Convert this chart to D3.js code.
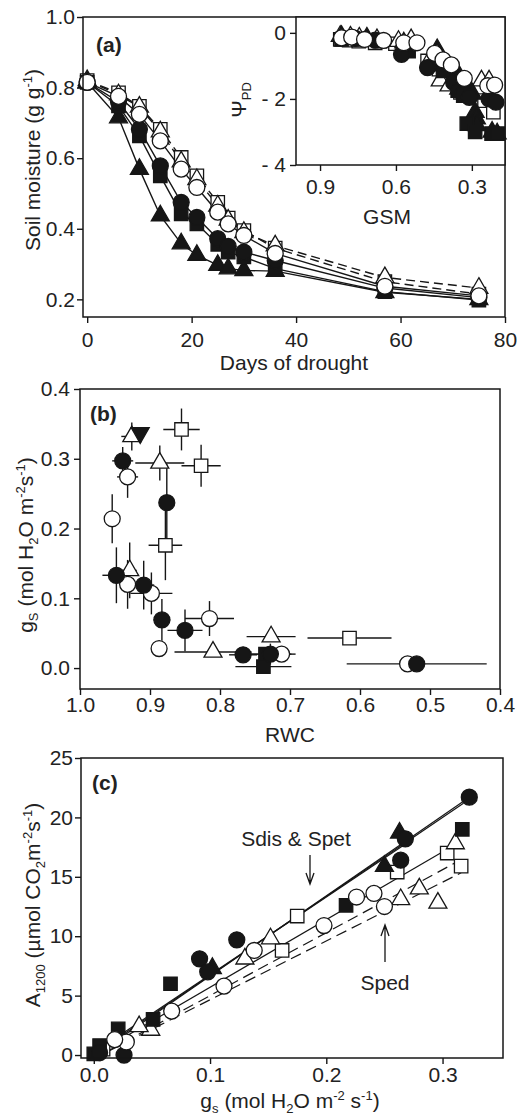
<!DOCTYPE html>
<html>
<head>
<meta charset="utf-8">
<script src="https://cdn.jsdelivr.net/npm/d3@7"></script>
<style>
body { margin: 0; background: #fff; }
text { font-family: "Liberation Sans", Arial, sans-serif; fill: #222; }
</style>
</head>
<body>
<script>
// ---- panel (a): soil moisture over days of drought ----
var days = [0, 6, 10, 14, 18, 21, 25, 27, 30, 36, 57, 75];
var smOpenSquare   = [0.82, 0.785, 0.747, 0.682, 0.602, 0.55, 0.475, 0.43, 0.395, 0.345, 0.25, 0.215];
var smOpenTriangle = [0.82, 0.78, 0.745, 0.675, 0.59, 0.54, 0.465, 0.425, 0.39, 0.352, 0.262, 0.232];
var smOpenCircle   = [0.815, 0.775, 0.724, 0.649, 0.569, 0.517, 0.447, 0.414, 0.381, 0.33, 0.237, 0.21];
var smFillCircle   = [0.815, 0.76, 0.682, 0.578, 0.475, 0.432, 0.372, 0.35, 0.334, 0.31, 0.232, 0.205];
var smFillSquare   = [0.815, 0.748, 0.663, 0.55, 0.442, 0.414, 0.356, 0.334, 0.32, 0.287, 0.222, 0.198];
var smFillTriangle = [0.815, 0.715, 0.569, 0.437, 0.358, 0.325, 0.297, 0.287, 0.282, 0.28, 0.22, 0.2];

// inset: predawn water potential against the same soil moisture values
var psiOpenSquare   = [-0.2, -0.22, -0.25, -0.3, -0.33, -0.3, -0.85, -1.1, -1.35, -1.8, -2.05, -2.4];
var psiOpenTriangle = [-0.1, -0.12, -0.15, -0.2, -0.25, -0.2, -0.8, -1.45, -1.6, -1.7, -1.45, -1.45];
var psiOpenCircle   = [-0.15, -0.13, -0.2, -0.23, -0.3, -0.3, -0.62, -0.82, -0.97, -1.38, -1.6, -1.58];
var psiFillCircle   = [-0.15, -0.17, -0.22, -0.65, -1.05, -0.75, -1.5, -1.75, -1.85, -1.95, -2.0, -2.1];
var psiFillSquare   = [-0.2, -0.2, -0.25, -0.55, -0.95, -1.15, -1.75, -1.9, -2.75, -3.0, -3.05, -3.05];
var psiFillTriangle = [-0.1, -0.15, -0.3, -0.5, -1.2, -1.5, -1.85, -2.4, -2.6, -2.8, -3.0, -3.05];

// ---- panel (b): gs against RWC, with errors ----
var bFillCircleRwc = [0.939, 0.876, 0.948, 0.909, 0.883, 0.85, 0.767, 0.728, 0.519];
var bFillCircleGs  = [0.297, 0.237, 0.133, 0.119, 0.069, 0.054, 0.019, 0.02, 0.006];
var bFillCircleXe  = [0.015, 0.01, 0.02, 0.015, 0.012, 0.025, 0.02, 0.03, 0.1];
var bFillCircleYe  = [0.02, 0.055, 0.04, 0.035, 0.03, 0.03, 0.01, 0.015, 0.004];
var bOpenCircleRwc = [0.932, 0.954, 0.932, 0.898, 0.887, 0.815, 0.712, 0.532];
var bOpenCircleGs  = [0.274, 0.214, 0.12, 0.107, 0.028, 0.071, 0.02, 0.006];
var bOpenCircleXe  = [0.015, 0.005, 0.01, 0.03, 0.005, 0.035, 0.02, 0.01];
var bOpenCircleYe  = [0.03, 0.035, 0.035, 0.03, 0.01, 0.025, 0.01, 0.003];
var bOpenTriRwc = [0.926, 0.886, 0.929, 0.81, 0.727];
var bOpenTriGs  = [0.332, 0.294, 0.14, 0.023, 0.045];
var bOpenTriXe  = [0.015, 0.035, 0.01, 0.055, 0.035];
var bOpenTriYe  = [0.02, 0.025, 0.04, 0.005, 0.005];
var bOpenSqRwc = [0.855, 0.827, 0.878, 0.615];
var bOpenSqGs  = [0.342, 0.29, 0.176, 0.043];
var bOpenSqXe  = [0.026, 0.028, 0.024, 0.06];
var bOpenSqYe  = [0.03, 0.03, 0.05, 0.005];
var bFillSqRwc = [0.738, 0.735];
var bFillSqGs  = [0.002, 0.02];
var bFillSqXe  = [0.04, 0.03];
var bFillSqYe  = [0.006, 0.006];
var bDownTriRwc = [0.914];
var bDownTriGs  = [0.337];

// ---- panel (c): A1200 against gs ----
var cFillCircleGs = [0.323, 0.268, 0.264, 0.123, 0.091, 0.098, 0.026, 0.005];
var cFillCircleA  = [21.7, 18.2, 16.4, 9.7, 8.1, 7.0, 0.0, 0.2];
var cFillTriGs = [0.263, 0.25, 0.102];
var cFillTriA  = [18.7, 15.9, 7.3];
var cFillSqGs = [0.317, 0.217, 0.066, 0.051, 0.021, 0.005, 0.0];
var cFillSqA  = [19.0, 12.6, 6.0, 3.0, 2.2, 0.8, 0.1];
var cOpenSqGs = [0.304, 0.316, 0.261, 0.175, 0.162, 0.008];
var cOpenSqA  = [17.0, 15.9, 15.4, 11.7, 8.8, 0.5];
var cOpenCircleGs = [0.25, 0.241, 0.226, 0.198, 0.138, 0.112, 0.067, 0.028, 0.018];
var cOpenCircleA  = [12.5, 13.6, 13.3, 10.9, 8.8, 5.8, 3.7, 1.1, 1.3];
var cOpenTriGs = [0.311, 0.296, 0.28, 0.264, 0.152, 0.13, 0.049, 0.039];
var cOpenTriA  = [17.8, 12.8, 14.0, 13.1, 9.8, 8.1, 2.1, 2.4];

// regression lines: A = slope * gs + intercept, from gs = 0 to end
var fitSlope     = [67.5, 66.5, 65.5, 57, 53, 49.5];
var fitIntercept = [-0.1, 0.05, 0.2, 0.0, -0.3, -0.3];
var fitEnd       = [0.323, 0.318, 0.27, 0.305, 0.31, 0.316];
var fitDashed    = [false, false, false, false, true, true];

var xTicksA = [0, 20, 40, 60, 80];
var yTicksA = [0.2, 0.4, 0.6, 0.8, 1.0];
var xTicksInset = [0.9, 0.6, 0.3];
var yTicksInset = [0, -2, -4];
var xTicksB = [1.0, 0.9, 0.8, 0.7, 0.6, 0.5, 0.4];
var yTicksB = [0.0, 0.1, 0.2, 0.3, 0.4];
var xTicksC = [0.0, 0.1, 0.2, 0.3];
var yTicksC = [0, 5, 10, 15, 20, 25];

var INK = "#161616";
var FS = 21;

var svg = d3.select("body").append("svg")
    .attr("width", 531)
    .attr("height", 1119);

function zip(xs, ys) {
    return xs.map(function(v, i) { return [v, ys[i]]; });
}

function symbolPath(kind) {
    var type = d3.symbolCircle, size = 200;
    if (kind === "square") { type = d3.symbolSquare; size = 180; }
    if (kind === "triangle" || kind === "down") { type = d3.symbolTriangle; size = 140; }
    return d3.symbol().type(type).size(size)();
}

function drawPoints(g, x, y, pts, kind, filled) {
    var rot = kind === "down" ? " rotate(180)" : "";
    g.append("g").selectAll("path")
        .data(pts)
        .enter()
        .append("path")
        .attr("d", symbolPath(kind))
        .attr("transform", function(d) {
            return "translate(" + x(d[0]) + "," + y(d[1]) + ")" + rot;
        })
        .attr("fill", filled ? INK : "#fff")
        .attr("stroke", INK)
        .attr("stroke-width", 1.3);
}

function richText(sel, parts, size) {
    var shift = 0;
    parts.forEach(function(p) {
        var target = p[1] === "sup" ? -0.36 * size : (p[1] === "sub" ? 0.25 * size : 0);
        var t = sel.append("tspan").text(p[0]).attr("dy", target - shift);
        if (p[1]) t.attr("font-size", size * 0.62);
        shift = target;
    });
}

function axes(x, y, xTicks, yTicks, xFmt, yFmt, xPad, yPad) {
    var r = x.range(), t = y.range();
    var gx = svg.append("g")
        .attr("transform", "translate(0," + t[0] + ")")
        .call(d3.axisBottom(x).tickValues(xTicks).tickFormat(xFmt)
            .tickSize(6).tickSizeOuter(0).tickPadding(xPad));
    var gy = svg.append("g")
        .attr("transform", "translate(" + r[0] + ",0)")
        .call(d3.axisLeft(y).tickValues(yTicks).tickFormat(yFmt)
            .tickSize(6).tickSizeOuter(0).tickPadding(yPad));
    [gx, gy].forEach(function(g) {
        g.select(".domain").remove();
        g.selectAll("line").attr("stroke", INK).attr("stroke-width", 1.4);
        g.selectAll("text").attr("font-size", FS).attr("fill", "#222")
            .attr("font-family", "'Liberation Sans', Arial, sans-serif");
    });
    svg.append("rect")
        .attr("x", r[0]).attr("y", t[1])
        .attr("width", r[1] - r[0]).attr("height", t[0] - t[1])
        .attr("fill", "none").attr("stroke", INK).attr("stroke-width", 1.5);
}

var f1 = d3.format(".1f");

// ================= panel (a) =================
var xa = d3.scaleLinear().domain([-0.8, 80]).range([83, 505]);
var ya = d3.scaleLinear().domain([0.15, 1.0]).range([317, 17]);

var seriesA = [
    { sm: smOpenSquare, psi: psiOpenSquare, kind: "square", filled: false, dash: "9,5" },
    { sm: smOpenTriangle, psi: psiOpenTriangle, kind: "triangle", filled: false, dash: "9,5" },
    { sm: smFillTriangle, psi: psiFillTriangle, kind: "triangle", filled: true, dash: null },
    { sm: smFillSquare, psi: psiFillSquare, kind: "square", filled: true, dash: null },
    { sm: smFillCircle, psi: psiFillCircle, kind: "circle", filled: true, dash: null },
    { sm: smOpenCircle, psi: psiOpenCircle, kind: "circle", filled: false, dash: null }
];

var lineA = d3.line().x(function(d) { return xa(d[0]); }).y(function(d) { return ya(d[1]); });
var gA = svg.append("g");
seriesA.forEach(function(s) {
    gA.append("path")
        .datum(zip(days, s.sm))
        .attr("d", lineA)
        .attr("fill", "none")
        .attr("stroke", INK)
        .attr("stroke-width", 1.4)
        .attr("stroke-dasharray", s.dash);
});
seriesA.forEach(function(s) {
    drawPoints(gA, xa, ya, zip(days, s.sm), s.kind, s.filled);
});
axes(xa, ya, xTicksA, yTicksA, d3.format("d"), f1, 9, 2);

svg.append("text").attr("x", 96).attr("y", 52)
    .attr("font-size", FS).attr("font-weight", "bold").text("(a)");
svg.append("text").attr("x", 294).attr("y", 370)
    .attr("font-size", FS).attr("text-anchor", "middle").text("Days of drought");
richText(svg.append("text")
    .attr("transform", "translate(40,160) rotate(-90)")
    .attr("font-size", FS).attr("text-anchor", "middle"),
    [["Soil moisture (g g", ""], ["-1", "sup"], [")", ""]], FS);

// inset
var xi = d3.scaleLinear().domain([0.995, 0.169]).range([296, 505]);
var yi = d3.scaleLinear().domain([-4, 0.48]).range([165, 17]);
svg.append("rect").attr("x", 296).attr("y", 17).attr("width", 209).attr("height", 148)
    .attr("fill", "#fff");
var gI = svg.append("g");
seriesA.forEach(function(s) {
    drawPoints(gI, xi, yi, zip(s.sm, s.psi), s.kind, s.filled);
});
axes(xi, yi, xTicksInset, yTicksInset, f1,
    function(d) { return d < 0 ? "- " + (-d) : d; }, 8, 4);
svg.append("text").attr("x", 387).attr("y", 224)
    .attr("font-size", FS).attr("text-anchor", "middle").text("GSM");
richText(svg.append("text")
    .attr("transform", "translate(246,100) rotate(-90)")
    .attr("font-size", FS).attr("text-anchor", "middle"),
    [["\u03A8", ""], ["PD", "sub"]], FS);

// ================= panel (b) =================
var xb = d3.scaleLinear().domain([1.0, 0.4]).range([80, 500]);
var yb = d3.scaleLinear().domain([-0.03, 0.4]).range([689, 389]);

var seriesB = [
    { rwc: bOpenSqRwc, gs: bOpenSqGs, xe: bOpenSqXe, ye: bOpenSqYe, kind: "square", filled: false },
    { rwc: bOpenTriRwc, gs: bOpenTriGs, xe: bOpenTriXe, ye: bOpenTriYe, kind: "triangle", filled: false },
    { rwc: bOpenCircleRwc, gs: bOpenCircleGs, xe: bOpenCircleXe, ye: bOpenCircleYe, kind: "circle", filled: false },
    { rwc: bFillSqRwc, gs: bFillSqGs, xe: bFillSqXe, ye: bFillSqYe, kind: "square", filled: true },
    { rwc: bFillCircleRwc, gs: bFillCircleGs, xe: bFillCircleXe, ye: bFillCircleYe, kind: "circle", filled: true }
];

var gB = svg.append("g");
seriesB.forEach(function(s) {
    s.rwc.forEach(function(v, i) {
        gB.append("line")
            .attr("x1", xb(v - s.xe[i])).attr("x2", xb(v + s.xe[i]))
            .attr("y1", yb(s.gs[i])).attr("y2", yb(s.gs[i]))
            .attr("stroke", INK).attr("stroke-width", 1.4);
        gB.append("line")
            .attr("x1", xb(v)).attr("x2", xb(v))
            .attr("y1", yb(s.gs[i] - s.ye[i])).attr("y2", yb(s.gs[i] + s.ye[i]))
            .attr("stroke", INK).attr("stroke-width", 1.4);
    });
});
seriesB.forEach(function(s) {
    drawPoints(gB, xb, yb, zip(s.rwc, s.gs), s.kind, s.filled);
});
drawPoints(gB, xb, yb, zip(bDownTriRwc, bDownTriGs), "down", true);
axes(xb, yb, xTicksB, yTicksB, f1, f1, 2, 4);

svg.append("text").attr("x", 90).attr("y", 421)
    .attr("font-size", FS).attr("font-weight", "bold").text("(b)");
svg.append("text").attr("x", 290).attr("y", 742)
    .attr("font-size", FS).attr("text-anchor", "middle").text("RWC");
richText(svg.append("text")
    .attr("transform", "translate(33,545) rotate(-90)")
    .attr("font-size", FS).attr("text-anchor", "middle"),
    [["g", ""], ["S", "sub"], [" (mol H", ""], ["2", "sub"], ["O m", ""], ["-2", "sup"],
     ["s", ""], ["-1", "sup"], [")", ""]], FS);

// ================= panel (c) =================
var xc = d3.scaleLinear().domain([-0.011, 0.352]).range([81, 503]);
var yc = d3.scaleLinear().domain([-0.25, 25]).range([1058, 758]);

var gC = svg.append("g");
fitSlope.forEach(function(m, i) {
    gC.append("line")
        .attr("x1", xc(0)).attr("y1", yc(fitIntercept[i]))
        .attr("x2", xc(fitEnd[i])).attr("y2", yc(m * fitEnd[i] + fitIntercept[i]))
        .attr("stroke", INK).attr("stroke-width", 1.2)
        .attr("stroke-dasharray", fitDashed[i] ? "11,6" : null);
});

var seriesC = [
    { gs: cOpenSqGs, a: cOpenSqA, kind: "square", filled: false },
    { gs: cOpenTriGs, a: cOpenTriA, kind: "triangle", filled: false },
    { gs: cFillSqGs, a: cFillSqA, kind: "square", filled: true },
    { gs: cFillTriGs, a: cFillTriA, kind: "triangle", filled: true },
    { gs: cFillCircleGs, a: cFillCircleA, kind: "circle", filled: true },
    { gs: cOpenCircleGs, a: cOpenCircleA, kind: "circle", filled: false }
];
seriesC.forEach(function(s) {
    drawPoints(gC, xc, yc, zip(s.gs, s.a), s.kind, s.filled);
});
axes(xc, yc, xTicksC, yTicksC, f1, d3.format("d"), 3, 2);

// annotations with arrows
function arrow(x, y1, y2) {
    var dir = y2 > y1 ? -1 : 1;
    svg.append("path")
        .attr("d", "M" + x + "," + y1 + "L" + x + "," + y2 +
              "M" + (x - 4) + "," + (y2 + dir * 11) + "L" + x + "," + y2 + "L" + (x + 4) + "," + (y2 + dir * 11))
        .attr("fill", "none").attr("stroke", INK).attr("stroke-width", 1.3);
}
svg.append("text").attr("x", 296).attr("y", 846)
    .attr("font-size", FS).attr("text-anchor", "middle").text("Sdis & Spet");
arrow(310, 855, 884);
svg.append("text").attr("x", 385).attr("y", 990)
    .attr("font-size", FS).attr("text-anchor", "middle").text("Sped");
arrow(385, 962, 925);

svg.append("text").attr("x", 92).attr("y", 790)
    .attr("font-size", FS).attr("font-weight", "bold").text("(c)");
richText(svg.append("text")
    .attr("x", 290).attr("y", 1108)
    .attr("font-size", FS).attr("text-anchor", "middle"),
    [["g", ""], ["s", "sub"], [" (mol H", ""], ["2", "sub"], ["O m", ""], ["-2", "sup"],
     [" s", ""], ["-1", "sup"], [")", ""]], FS);
richText(svg.append("text")
    .attr("transform", "translate(40,905) rotate(-90)")
    .attr("font-size", FS).attr("text-anchor", "middle"),
    [["A", ""], ["1200", "sub"], [" (\u00B5mol CO", ""], ["2", "sub"], ["m", ""], ["-2", "sup"],
     ["s", ""], ["-1", "sup"], [")", ""]], FS);
</script>
</body>
</html>
